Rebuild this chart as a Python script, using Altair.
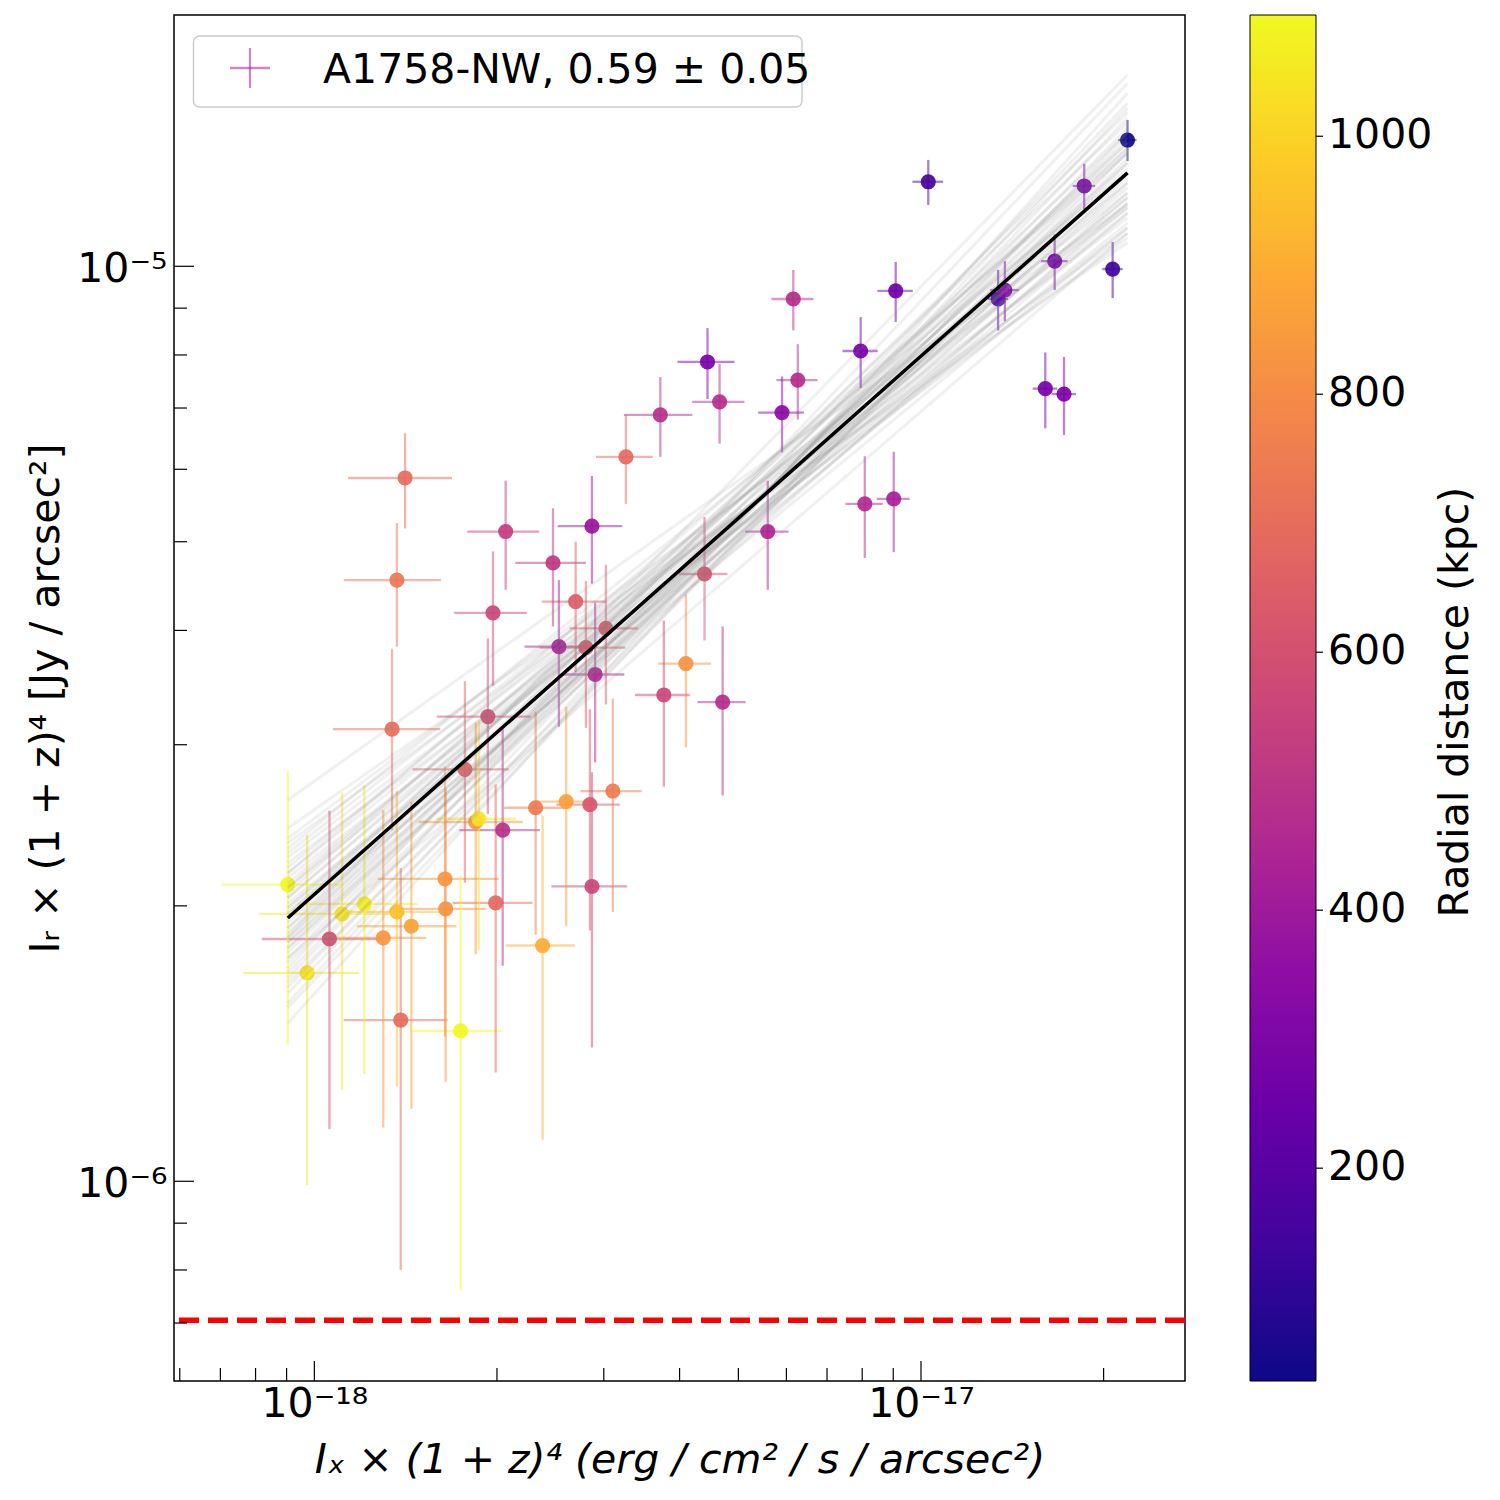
import altair as alt
import pandas as pd

# ---------------- data (x in 1e-18 erg/cm2/s/arcsec2, y in 1e-6 Jy/arcsec2) ----------------
X_UNIT = 1e-18
Y_UNIT = 1e-6

ix = [21.90, 10.28, 18.58, 16.61, 20.70, 9.085, 13.40, 13.75, 6.159, 7.954,
      4.447, 4.656, 6.265, 16.03, 17.21, 3.718, 5.901, 3.263, 1.411, 5.590,
      2.067, 2.868, 2.474, 1.368, 1.970, 2.696, 3.024, 2.530, 2.803, 2.903,
      3.768, 1.343, 1.932, 1.771, 3.105, 2.601, 2.846, 4.397, 8.079, 9.017,
      4.097, 4.710, 2.316, 1.867, 1.845, 2.044, 0.904, 1.642, 2.868, 1.209,
      1.111, 1.368, 1.646, 1.990, 1.445, 1.059, 1.299, 2.378, 0.973, 1.388,
      1.742]
ix_err = [0.76, 0.60, 0.79, 0.84, 0.80, 0.61, 0.52, 0.75, 0.49, 0.53,
          0.48, 0.46, 0.49, 0.75, 0.80, 0.48, 0.51, 0.35, 0.275, 0.46,
          0.28, 0.35, 0.33, 0.25, 0.27, 0.325, 0.39, 0.31, 0.45, 0.34,
          0.39, 0.27, 0.34, 0.32, 0.36, 0.29, 0.34, 0.40, 0.57, 0.56,
          0.41, 0.43, 0.26, 0.28, 0.36, 0.31, 0.20, 0.37, 0.41, 0.27,
          0.30, 0.25, 0.27, 0.30, 0.27, 0.24, 0.23, 0.31, 0.21, 0.27,
          0.29]
ir = [13.74, 12.37, 12.24, 10.13, 9.93, 9.40, 9.21, 9.42, 9.21, 8.08,
      7.86, 7.11, 7.51, 7.35, 7.25, 6.88, 6.92, 6.19, 5.87, 5.13,
      5.13, 5.20, 4.74, 4.54, 4.18, 4.30, 4.02, 3.84, 3.83, 3.58,
      3.40, 3.12, 3.22, 2.82, 2.67, 2.60, 2.58, 4.61, 5.50, 5.57,
      3.68, 3.34, 2.56, 2.49, 2.47, 2.42, 2.11, 2.14, 2.10, 2.01,
      1.96, 1.97, 1.985, 2.015, 1.90, 1.84, 1.845, 1.81, 1.69, 1.50,
      1.46]
ir_err = [0.71, 0.70, 0.70, 0.71, 0.70, 0.71, 0.70, 0.71, 0.70, 0.72,
          0.70, 0.71, 0.71, 0.70, 0.71, 0.69, 0.66, 0.69, 0.70, 0.70,
          0.70, 0.70, 0.70, 0.70, 0.70, 0.70, 0.70, 0.70, 0.70, 0.71,
          0.70, 0.70, 0.70, 0.70, 0.70, 0.70, 0.70, 0.71, 0.70, 0.70,
          0.70, 0.70, 0.70, 0.70, 0.70, 0.70, 0.70, 0.70, 0.70, 0.70,
          0.70, 0.70, 0.70, 0.70, 0.70, 0.70, 0.70, 0.70, 0.70, 0.70,
          0.70]
radial_kpc = [40, 150, 280, 270, 140, 260, 170, 320, 470, 280,
              290, 470, 470, 280, 290, 480, 340, 690, 700, 440,
              530, 380, 510, 730, 565, 650, 640, 420, 640, 440,
              565, 710, 590, 670, 750, 860, 620, 610, 460, 420,
              820, 470, 750, 1040, 840, 480, 1090, 830, 560, 1060,
              1050, 950, 820, 690, 870, 600, 830, 900, 1040, 700,
              1090]

# best fit (slope 0.59) end points
fit_x = [0.904, 21.90]
fit_y = [1.94, 12.65]
# bootstrap realisations: offsets (dex) of the ends from the best fit
boot_left_dex = [0.000, 0.022, -0.027, 0.049, -0.044, 0.011, -0.016, 0.066, -0.060, 0.033,
                 -0.033, 0.005, -0.011, 0.082, -0.076, 0.038, -0.038, 0.016, -0.022, 0.098,
                 -0.093, 0.027, -0.027, 0.055, -0.049, 0.005, -0.005, 0.044, -0.066, 0.129,
                 -0.115, 0.022, -0.022, 0.071, -0.071, 0.000, 0.000, 0.060, -0.055, 0.033,
                 -0.033, -0.011, 0.011, -0.082, 0.087, -0.044, 0.049, -0.098, 0.076, -0.019]
boot_right_dex = [0.000, -0.016, 0.022, -0.033, 0.038, 0.011, -0.022, -0.049, 0.049, 0.005,
                  -0.005, -0.038, 0.044, -0.066, 0.060, -0.027, 0.027, -0.055, 0.066, -0.076,
                  0.071, 0.027, -0.033, -0.011, 0.011, 0.033, -0.044, -0.060, 0.076, -0.035,
                  0.087, 0.000, 0.000, -0.022, 0.016, 0.055, -0.060, -0.071, 0.098, -0.044,
                  0.033, -0.011, -0.027, 0.022, -0.038, -0.066, 0.022, 0.044, 0.000, 0.107]

noise_level = [0.705]  # 1e-6 Jy/arcsec2 (red dashed line)

x_major_ticks = [1, 10]
x_minor_ticks = [0.6, 0.7, 0.8, 0.9, 2, 3, 4, 5, 6, 7, 8, 9, 20]
y_major_ticks = [1, 10]
y_minor_ticks = [0.7, 0.8, 0.9, 2, 3, 4, 5, 6, 7, 8, 9]
x_tick_labels = ["10⁻¹⁸", "10⁻¹⁷"]
y_tick_labels = ["10⁻⁶", "10⁻⁵"]
cbar_ticks = [200, 400, 600, 800, 1000]
cbar_domain = [35, 1094]

legend_label = "A1758-NW, 0.59 ± 0.05"
x_title = "Iₓ × (1 + z)⁴ (erg / cm² / s / arcsec²)"
y_title = "Iᵣ × (1 + z)⁴ [Jy / arcsec²]"
cbar_title = "Radial distance (kpc)"

# matplotlib "plasma" colormap anchor colours (for the colour-bar gradient)
plasma_stops = ["#0d0887", "#41049d", "#6a00a8", "#8f0da4", "#b12a90", "#cc4778",
                "#e16462", "#f2844b", "#fca636", "#fcce25", "#f0f921"]

# ---------------- frames ----------------
rows = []
for a, ae, b, be, r in zip(ix, ix_err, ir, ir_err, radial_kpc):
    rows.append(dict(x=a * X_UNIT, xlo=(a - ae) * X_UNIT, xhi=(a + ae) * X_UNIT,
                     y=b * Y_UNIT, ylo=(b - be) * Y_UNIT, yhi=(b + be) * Y_UNIT, r=r))
df = pd.DataFrame(rows).sort_values("r", kind="stable").reset_index(drop=True)

boot_rows = []
for i, (l, rr) in enumerate(zip(boot_left_dex, boot_right_dex)):
    boot_rows.append(dict(id=i, x=fit_x[0] * X_UNIT, y=fit_y[0] * 10 ** l * Y_UNIT))
    boot_rows.append(dict(id=i, x=fit_x[1] * X_UNIT, y=fit_y[1] * 10 ** rr * Y_UNIT))
boot_df = pd.DataFrame(boot_rows)
fit_df = pd.DataFrame(dict(x=[v * X_UNIT for v in fit_x], y=[v * Y_UNIT for v in fit_y]))
noise_df = pd.DataFrame(dict(v=[v * Y_UNIT for v in noise_level]))
xmaj_df = pd.DataFrame(dict(v=[v * X_UNIT for v in x_major_ticks]))
xmin_df = pd.DataFrame(dict(v=[v * X_UNIT for v in x_minor_ticks]))
ymaj_df = pd.DataFrame(dict(v=[v * Y_UNIT for v in y_major_ticks]))
ymin_df = pd.DataFrame(dict(v=[v * Y_UNIT for v in y_minor_ticks]))
cbt_df = pd.DataFrame(dict(v=cbar_ticks))

# ---------------- geometry ----------------
W, H = 1011, 1366
FONT = "DejaVu Sans"
FS = 41
CB_X0, CB_X1 = 1076, 1142   # colour bar, relative to the plot's left edge

xscale = alt.Scale(type="log", domain=[5.87e-19, 2.724e-17], nice=False)
yscale = alt.Scale(type="log", domain=[6.05e-7, 1.882e-5], nice=False)

xexpr = f"datum.value < 3e-18 ? '{x_tick_labels[0]}' : '{x_tick_labels[1]}'"
yexpr = f"datum.value < 3e-6 ? '{y_tick_labels[0]}' : '{y_tick_labels[1]}'"

xaxis = alt.Axis(values=[v * X_UNIT for v in x_major_ticks], labelExpr=xexpr, ticks=False,
                 tickSize=0, domain=False, grid=False, labelFont=FONT, labelFontSize=FS,
                 labelColor="black", labelPadding=3, labelFlush=False, labelOverlap=False,
                 title=x_title, titleFont=FONT, titleFontSize=FS, titleFontStyle="italic",
                 titleFontWeight="normal", titleColor="black", titleY=91,
                 titleBaseline="alphabetic")
yaxis = alt.Axis(values=[v * Y_UNIT for v in y_major_ticks], labelExpr=yexpr, ticks=False,
                 tickSize=0, domain=False, grid=False, labelFont=FONT, labelFontSize=FS,
                 labelColor="black", labelPadding=7, labelOffset=3, labelFlush=False,
                 labelOverlap=False, title=y_title, titleFont=FONT, titleFontSize=FS,
                 titleFontWeight="normal", titleColor="black", titleX=-116,
                 titleBaseline="alphabetic", titleAngle=270)


def X(f):
    return alt.X(f"{f}:Q", scale=xscale, axis=xaxis)


def Y(f):
    return alt.Y(f"{f}:Q", scale=yscale, axis=yaxis)


color = alt.Color("r:Q", scale=alt.Scale(scheme="plasma", domain=cbar_domain), legend=None)

xerr = alt.Chart(df).mark_rule(strokeWidth=2.3, opacity=0.5).encode(
    x=X("xlo"), x2="xhi:Q", y=Y("y"), color=color)
yerr = alt.Chart(df).mark_rule(strokeWidth=2.3, opacity=0.5).encode(
    x=X("x"), y=Y("ylo"), y2="yhi:Q", color=color)
pts = alt.Chart(df).mark_circle(size=230, opacity=0.92).encode(
    x=X("x"), y=Y("y"), color=color)

boot = alt.Chart(boot_df).mark_line(color="#808080", opacity=0.12, strokeWidth=3).encode(
    x=X("x"), y=Y("y"), detail="id:N")
fit = alt.Chart(fit_df).mark_line(color="black", strokeWidth=3.5).encode(x=X("x"), y=Y("y"))
noise = alt.Chart(noise_df).mark_rule(color="red", strokeDash=[20, 9], strokeWidth=5.5).encode(
    y=Y("v"))

xmaj = alt.Chart(xmaj_df).mark_rule(color="black", strokeWidth=1.2).encode(
    x=X("v"), y=alt.value(H), y2=alt.value(H - 20))
xmin = alt.Chart(xmin_df).mark_rule(color="black", strokeWidth=1.2).encode(
    x=X("v"), y=alt.value(H), y2=alt.value(H - 13))
ymaj = alt.Chart(ymaj_df).mark_rule(color="black", strokeWidth=1.2).encode(
    y=Y("v"), x=alt.value(0), x2=alt.value(20))
ymin = alt.Chart(ymin_df).mark_rule(color="black", strokeWidth=1.2).encode(
    y=Y("v"), x=alt.value(0), x2=alt.value(13))

one = pd.DataFrame(dict(t=[legend_label]))
leg_box = alt.Chart(one).mark_rect(fill="white", fillOpacity=0.8, stroke="#cccccc",
                                   strokeWidth=1.5, cornerRadius=6).encode(
    x=alt.value(19.5), x2=alt.value(628), y=alt.value(21), y2=alt.value(92))
leg_h = alt.Chart(one).mark_rule(color="#a82296", opacity=0.55, strokeWidth=2.3).encode(
    x=alt.value(56), x2=alt.value(96), y=alt.value(53))
leg_v = alt.Chart(one).mark_rule(color="#a82296", opacity=0.55, strokeWidth=2.3).encode(
    x=alt.value(76), y=alt.value(33), y2=alt.value(73))
leg_txt = alt.Chart(one).mark_text(font=FONT, fontSize=FS, align="left", baseline="alphabetic",
                                   color="black").encode(
    x=alt.value(149), y=alt.value(68), text="t:N")

main = alt.layer(xerr, yerr, pts, boot, fit, noise, xmaj, xmin, ymaj, ymin,
                 leg_box, leg_h, leg_v, leg_txt)

# ---------------- colour bar ----------------
n = len(plasma_stops) - 1
grad = alt.LinearGradient(
    gradient="linear", x1=0, x2=0, y1=1, y2=0,
    stops=[alt.GradientStop(color=c, offset=i / n) for i, c in enumerate(plasma_stops)],
)
cb_scale = alt.Scale(domain=cbar_domain, nice=False, zero=False)
cbar_df = pd.DataFrame(dict(t=[cbar_title]))
cb_rect = alt.Chart(cbar_df).mark_rect(fill=grad, stroke="black", strokeWidth=1).encode(
    x=alt.value(CB_X0), x2=alt.value(CB_X1), y=alt.value(0), y2=alt.value(H))
cb_ticks = alt.Chart(cbt_df).mark_rule(color="black", strokeWidth=1.2).encode(
    y=alt.Y("v:Q", scale=cb_scale, axis=None), x=alt.value(CB_X1), x2=alt.value(CB_X1 + 7))
cb_labels = alt.Chart(cbt_df).mark_text(font=FONT, fontSize=FS, align="left",
                                        baseline="middle", color="black").encode(
    y=alt.Y("v:Q", scale=cb_scale, axis=None), x=alt.value(CB_X1 + 12),
    text=alt.Text("v:Q", format="d"))
cb_title = alt.Chart(cbar_df).mark_text(font=FONT, fontSize=FS, align="center",
                                        baseline="middle", angle=270, color="black").encode(
    x=alt.value(1282), y=alt.value(687), text="t:N")
cbar = alt.layer(cb_rect, cb_ticks, cb_labels, cb_title)

chart = alt.layer(main, cbar).resolve_scale(y="independent").properties(
    width=W, height=H,
    autosize=alt.AutoSizeParams(type="none"),
    padding={"left": 166, "top": 7, "right": 305, "bottom": 111},
).configure(font=FONT).configure_view(stroke="black", strokeWidth=1.5)

chart.save("out.html", embed_options={"renderer": "svg", "actions": False})
